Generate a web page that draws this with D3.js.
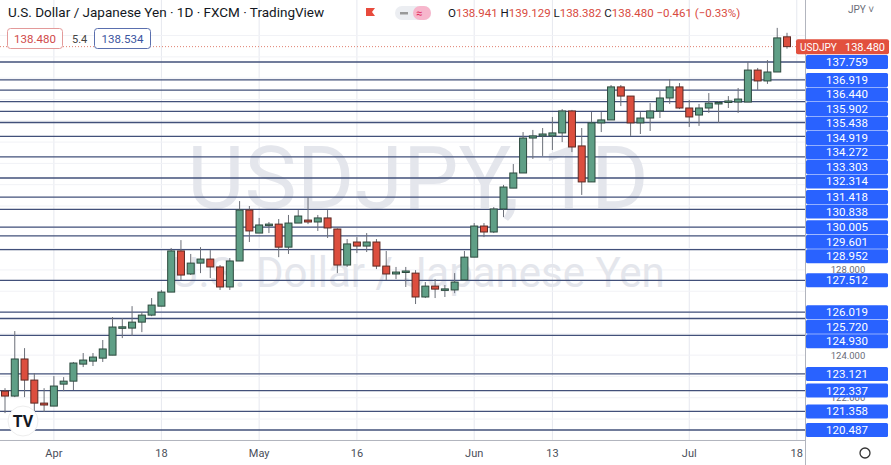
<!DOCTYPE html>
<html><head><meta charset="utf-8">
<script src="https://cdn.jsdelivr.net/npm/d3@7"></script>
<style>body{margin:0;background:#fff;font-family:"Roboto","Liberation Sans",sans-serif}</style>
</head><body><svg id="c" width="891" height="465"></svg>
<script>
const opens  = [122.31,122.08,123.82,122.83,121.75,121.61,122.64,122.78,123.58,123.72,123.86,124.00,125.29,125.27,125.55,125.88,126.30,126.96,128.89,127.81,128.32,128.51,128.14,127.20,128.42,130.81,129.73,130.13,130.15,129.07,130.20,130.34,130.25,130.44,129.92,128.23,129.31,129.12,129.31,128.18,127.81,127.92,127.85,126.73,127.24,127.08,127.06,127.53,128.60,130.06,129.78,130.86,131.84,132.55,134.19,134.29,134.29,134.43,135.46,133.82,132.13,134.90,135.04,136.59,136.16,134.90,135.13,135.46,136.07,136.59,135.60,135.27,135.60,135.83,135.88,135.88,135.88,137.38,136.87,137.29,138.941];
const highs  = [122.45,125.13,124.33,123.16,122.45,123.02,122.97,123.68,124.10,124.10,124.71,125.79,125.74,126.30,126.02,126.68,127.06,129.03,129.40,128.75,129.07,128.93,128.23,128.56,131.23,131.00,130.44,130.25,130.39,130.58,130.81,131.42,130.58,130.81,129.95,129.45,129.54,129.73,129.45,128.89,128.14,128.14,127.99,127.43,127.57,127.29,127.85,128.89,130.20,130.20,130.95,131.99,132.97,134.47,134.57,134.66,135.18,135.55,135.51,134.66,135.41,135.41,136.68,136.68,136.16,135.41,135.83,136.40,136.96,136.77,135.98,135.79,136.30,135.93,136.16,136.54,137.76,137.48,137.85,139.36,139.129];
const lows   = [121.28,122.03,122.03,121.33,121.33,121.61,122.31,122.36,123.44,123.49,123.68,124.00,124.80,124.90,125.08,125.83,126.30,126.96,127.53,127.76,127.85,127.62,127.06,127.06,128.42,129.31,129.73,129.73,128.60,128.75,130.20,130.15,129.83,129.50,127.85,128.14,128.79,128.84,128.04,127.53,127.57,127.20,126.40,126.68,126.68,126.73,126.91,127.53,128.60,129.54,129.73,130.48,131.84,132.55,133.21,133.35,133.63,134.00,133.53,131.52,132.13,134.47,135.04,135.69,134.29,134.38,134.52,135.13,135.79,135.55,134.71,134.76,135.37,134.90,135.60,135.37,135.88,136.45,136.73,137.29,138.382];
const closes = [122.08,123.82,122.83,121.75,121.66,122.55,122.78,123.63,123.77,123.91,124.29,125.32,125.33,125.55,125.88,126.35,126.96,128.89,127.76,128.32,128.51,128.14,127.20,128.42,130.81,129.83,130.11,130.15,129.07,130.20,130.53,130.25,130.44,129.97,128.23,129.22,129.12,129.31,128.18,127.81,127.90,127.95,126.73,127.24,127.10,127.11,127.43,128.60,130.06,129.78,130.86,131.89,132.55,134.19,134.29,134.38,134.43,135.46,133.77,132.13,134.90,135.04,136.59,136.16,134.90,135.13,135.46,136.07,136.59,135.60,135.18,135.60,135.83,135.86,135.93,136.02,137.38,136.87,137.29,138.89,138.480];
const levels = [137.759,136.919,136.440,135.902,135.438,134.919,134.272,133.303,132.314,131.418,130.838,130.005,129.601,128.952,127.512,126.019,125.720,124.930,123.121,122.337,121.358,120.487];
const axisTicks = [128.000,124.000,122.000];
const tickIndex = [5,16,26,36,48,56,70,81];
const tickLabels = ["Apr","18","May","16","Jun","13","Jul","18"];

const svg = d3.select("#c");
const W=891,H=465, plotR=805, plotB=440;
const x = d3.scaleLinear().domain([0,80]).range([5,787]);
const y = d3.scaleLinear().domain([137.759,120.487]).range([62,430]);

svg.selectAll(".vg").data(tickIndex).enter().append("line")
  .attr("x1",d=>x(d)).attr("x2",d=>x(d)).attr("y1",0).attr("y2",plotB)
  .attr("stroke","#e6e8ef").attr("stroke-width",1);
svg.selectAll(".hg").data(d3.range(120,140,1)).enter().append("line")
  .attr("x1",0).attr("x2",plotR).attr("y1",d=>y(d)).attr("y2",d=>y(d))
  .attr("stroke","#f1f2f6");

svg.append("text").attr("x",418).attr("y",208).attr("text-anchor","middle")
  .attr("font-size",88).attr("fill","#e4e6ec").text("USDJPY, 1D");
svg.append("text").attr("x",418).attr("y",287).attr("text-anchor","middle")
  .attr("font-size",42).attr("fill","#e4e6ec").text("U.S. Dollar / Japanese Yen");

svg.selectAll(".lv").data(levels).enter().append("line")
  .attr("x1",0).attr("x2",plotR).attr("y1",d=>y(d)).attr("y2",d=>y(d))
  .attr("stroke","#42507a").attr("stroke-width",1.3);

svg.append("line").attr("x1",0).attr("x2",plotR).attr("y1",y(138.48)).attr("y2",y(138.48))
  .attr("stroke","#e08070").attr("stroke-dasharray","1,2");

const idx = d3.range(opens.length);
const g = svg.append("g");
g.selectAll(".wk").data(idx).enter().append("line")
  .attr("x1",i=>x(i)).attr("x2",i=>x(i)).attr("y1",i=>y(highs[i])).attr("y2",i=>y(lows[i]))
  .attr("stroke","#6b6f78").attr("stroke-width",1);
g.selectAll(".bd").data(idx).enter().append("rect")
  .attr("x",i=>x(i)-3.5).attr("width",7)
  .attr("y",i=>y(Math.max(opens[i],closes[i])))
  .attr("height",i=>Math.max(1.5,Math.abs(y(opens[i])-y(closes[i]))))
  .attr("fill",i=>closes[i]>=opens[i]?"#5f9f86":"#dc4e3e")
  .attr("stroke",i=>closes[i]>=opens[i]?"#2d4a3e":"#5c2a24").attr("stroke-width",1);

svg.append("rect").attr("x",plotR).attr("y",0).attr("width",W-plotR).attr("height",H).attr("fill","#fff");
svg.append("line").attr("x1",plotR+0.5).attr("x2",plotR+0.5).attr("y1",0).attr("y2",H).attr("stroke","#b2b5be");
svg.append("line").attr("x1",0).attr("x2",plotR).attr("y1",plotB+0.5).attr("y2",plotB+0.5).attr("stroke","#b2b5be");

svg.selectAll(".tl").data(tickIndex).enter().append("text")
  .attr("x",d=>x(d)).attr("y",457).attr("text-anchor","middle").attr("font-size",11).attr("fill","#4a4e59")
  .text((d,i)=>tickLabels[i]);

// gray axis ticks (partially covered by level labels, as in the reference)
svg.selectAll(".at").data(axisTicks).enter().append("text")
  .attr("x",848).attr("y",d=>y(d)+3.5).attr("text-anchor","middle").attr("font-size",9.5).attr("fill","#6a6d78")
  .text(d=>d3.format(".3f")(d));

let prev=-100; const pos=[];
levels.forEach(v=>{let yy=Math.max(y(v),prev+14.5); pos.push(yy); prev=yy;});
const lg = svg.selectAll(".ll").data(levels).enter().append("g").attr("transform",(d,i)=>`translate(806,${pos[i]})`);
lg.append("rect").attr("x",0).attr("y",-7).attr("width",82).attr("height",14).attr("rx",1.5).attr("fill","#2962ff");
lg.append("text").attr("x",41).attr("y",4).attr("text-anchor","middle").attr("font-size",11.5).attr("fill","#fff")
  .text(d=>d3.format(".3f")(d));

const yl=y(138.48);
svg.append("rect").attr("x",796).attr("y",yl-7.5).attr("width",93).attr("height",15).attr("rx",2).attr("fill","#e2503e");
svg.append("text").attr("x",800).attr("y",yl+4).attr("font-size",10).attr("fill","#fff").text("USDJPY");
svg.append("text").attr("x",885).attr("y",yl+4).attr("text-anchor","end").attr("font-size",11).attr("fill","#fff").text("138.480");

svg.append("text").attr("x",848).attr("y",13).attr("font-size",10).attr("fill","#6a6d78").text("JPY ˅");
svg.append("circle").attr("cx",865).attr("cy",453).attr("r",5).attr("fill","none").attr("stroke","#333").attr("stroke-width",1.3);

svg.append("text").attr("x",8).attr("y",17).attr("font-size",13.5).attr("fill","#131722")
  .text("U.S. Dollar / Japanese Yen · 1D · FXCM · TradingView");
svg.append("path").attr("d","M366,8h9l-3,4l3,4h-9z").attr("fill","#e84a3c");
svg.append("rect").attr("x",395).attr("y",6).attr("width",36).attr("height",14).attr("rx",7).attr("fill","#eceef2");
svg.append("rect").attr("x",413).attr("y",6).attr("width",18).attr("height",14).attr("rx",7).attr("fill","#f7b6cc");
svg.append("text").attr("x",416).attr("y",17).attr("font-size",11).attr("fill","#e03060").text("≈");
svg.append("rect").attr("x",400).attr("y",12).attr("width",8).attr("height",2.5).attr("fill","#999");
const hdr = svg.append("text").attr("x",448).attr("y",17).attr("font-size",11.5);
[["O","#131722"],["138.941 ","#d84a3e"],["H","#131722"],["139.129 ","#d84a3e"],["L","#131722"],["138.382 ","#d84a3e"],["C","#131722"],["138.480 −0.461 (−0.33%)","#d84a3e"]]
  .forEach(([t,c])=>hdr.append("tspan").attr("fill",c).text(t));
svg.append("rect").attr("x",7.5).attr("y",28.5).attr("width",55).attr("height",20).attr("rx",3).attr("fill","#fff").attr("stroke","#e39a9a");
svg.append("text").attr("x",35).attr("y",43).attr("text-anchor","middle").attr("font-size",11.5).attr("fill","#d04a4a").text("138.480");
svg.append("text").attr("x",72).attr("y",43).attr("font-size",11).attr("fill","#444").text("5.4");
svg.append("rect").attr("x",94.5).attr("y",28.5).attr("width",56).attr("height",20).attr("rx",3).attr("fill","#fff").attr("stroke","#5a6fae");
svg.append("text").attr("x",122.5).attr("y",43).attr("text-anchor","middle").attr("font-size",11.5).attr("fill","#3b55a0").text("138.534");

svg.append("circle").attr("cx",23).attr("cy",421).attr("r",15).attr("fill","#fff").attr("stroke","#eee");
svg.append("text").attr("x",23).attr("y",427).attr("text-anchor","middle").attr("font-size",16).attr("font-weight","bold").attr("fill","#131722").text("TV");
</script></body></html>
